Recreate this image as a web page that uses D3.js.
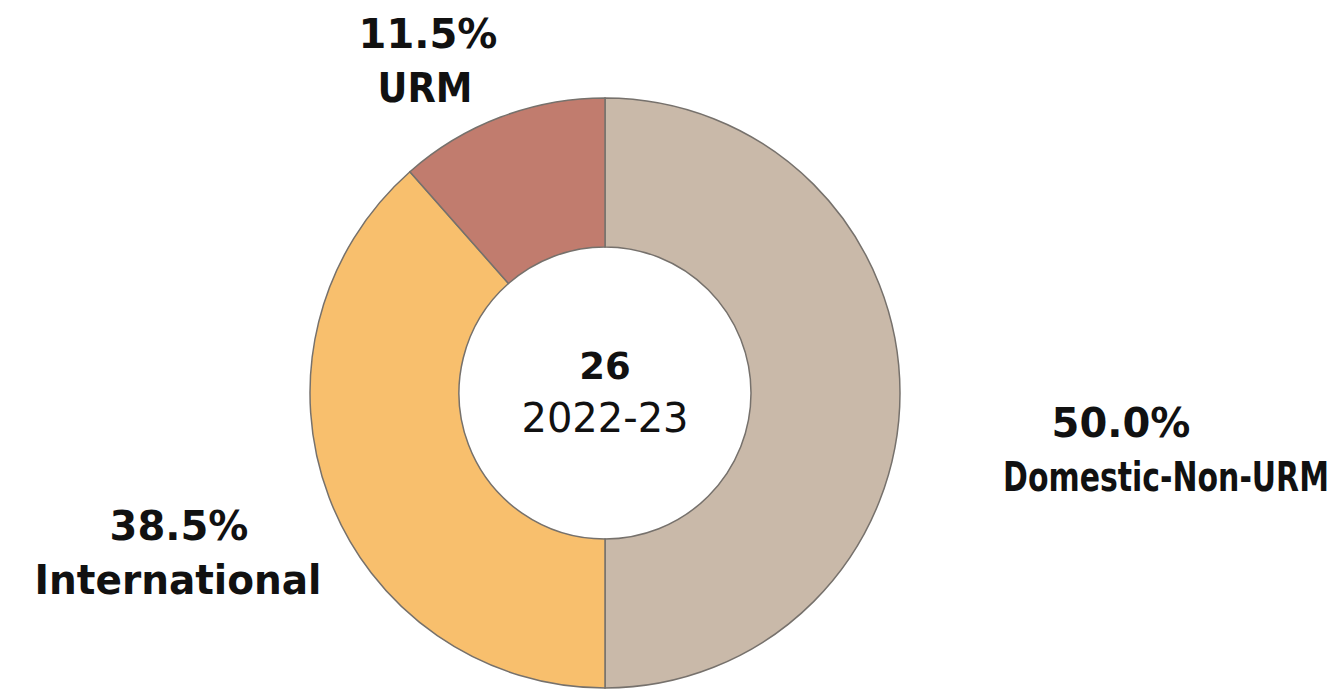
<!DOCTYPE html>
<html>
<head>
<meta charset="utf-8">
<script src="https://cdn.jsdelivr.net/npm/d3@7"></script>
<style>
  html, body { margin: 0; padding: 0; background: #fff; }
  svg { display: block; }
</style>
</head>
<body>
<div id="chart"></div>
<script>
// chart data
const categories = ["Domestic-Non-URM", "International", "URM"];
const shares = [50.0, 38.5, 11.5];
const totalCount = 26;
const yearLabel = "2022-23";

const colors = ["#c9b9a9", "#f8bf6d", "#c17c6e"];

// label anchor points (center x, baseline of first line) and text widths
const labelPos = {
  "Domestic-Non-URM": { x: 1166, y: 437, pctX: 1121, w: 326, pw: 142 },
  "International": { x: 178, y: 540, pctX: 179, w: 287, pw: 142 },
  "URM": { x: 425, y: 48, pctX: 428, w: 95, pw: 139 }
};

const width = 1338, height = 692;
const cx = 605, cy = 393;
const outerR = 295, innerR = 146;

const svg = d3.select("#chart").append("svg")
  .attr("width", width)
  .attr("height", height);

const pie = d3.pie().sort(null).value(d => d.value);
const arc = d3.arc().innerRadius(innerR).outerRadius(outerR);

const data = categories.map((c, i) => ({ name: c, value: shares[i], color: colors[i] }));

const g = svg.append("g").attr("transform", `translate(${cx},${cy})`);

g.selectAll("path.slice")
  .data(pie(data))
  .join("path")
  .attr("class", "slice")
  .attr("d", arc)
  .attr("fill", d => d.data.color)
  .attr("stroke", "#76716c")
  .attr("stroke-width", 1.5);

// center text
g.append("text")
  .attr("text-anchor", "middle")
  .attr("y", -14)
  .style("font-family", "DejaVu Sans, Verdana, sans-serif")
  .style("font-weight", "bold")
  .style("font-size", "37px")
  .attr("fill", "#111")
  .text(totalCount);

g.append("text")
  .attr("text-anchor", "middle")
  .attr("y", 39)
  .style("font-family", "DejaVu Sans, Verdana, sans-serif")
  .style("font-size", "40px")
  .attr("fill", "#111")
  .text(yearLabel);

// outside labels, squeezed horizontally to the widths seen in the original
function addLabel(txt, x, y, targetW) {
  let t = svg.append("text")
    .attr("text-anchor", "middle")
    .style("font-family", "DejaVu Sans, Verdana, sans-serif")
    .style("font-weight", "bold")
    .style("font-size", "40px")
    .attr("fill", "#111")
    .text(txt);
  let natural = t.node().getComputedTextLength();
  let sx = Math.min(1, targetW / natural);
  t.attr("transform", `translate(${x},${y}) scale(${sx},1)`);
}

data.forEach(d => {
  const p = labelPos[d.name];
  addLabel(d.value.toFixed(1) + "%", p.pctX, p.y, p.pw);
  addLabel(d.name, p.x, p.y + 54, p.w);
});
</script>
</body>
</html>
